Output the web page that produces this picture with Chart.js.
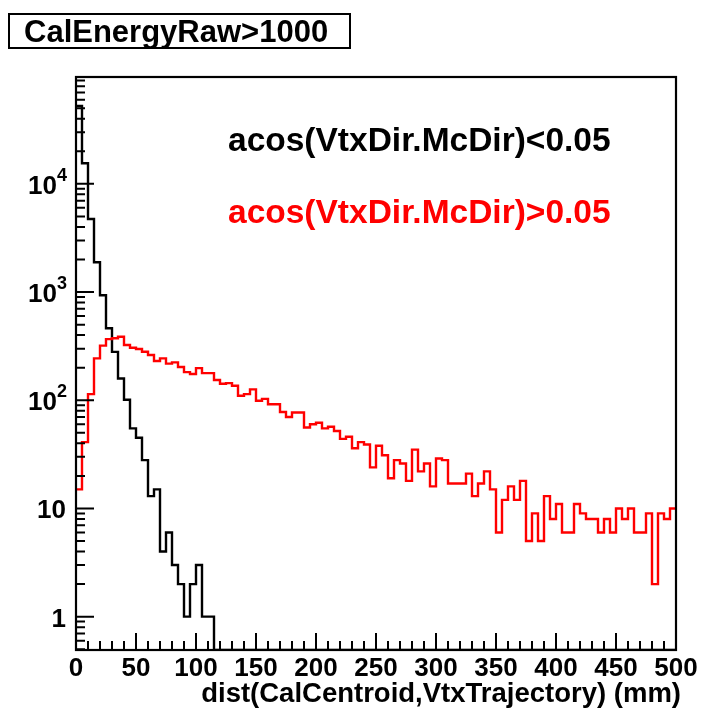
<!DOCTYPE html>
<html><head><meta charset="utf-8">
<script src="https://cdn.jsdelivr.net/npm/chart.js@4.4.0/dist/chart.umd.min.js"></script>
<style>html,body{margin:0;padding:0;background:#fff;}canvas{display:block;}</style>
</head><body>
<canvas id="c" width="702" height="711"></canvas>
<script>
// ---- data (5 mm bins, low edges) ----
const binLow = [0,5,10,15,20,25,30,35,40,45,50,55,60,65,70,75,80,85,90,95,
100,105,110,115,120,125,130,135,140,145,150,155,160,165,170,175,180,185,190,195,
200,205,210,215,220,225,230,235,240,245,250,255,260,265,270,275,280,285,290,295,
300,305,310,315,320,325,330,335,340,345,350,355,360,365,370,375,380,385,390,395,
400,405,410,415,420,425,430,435,440,445,450,455,460,465,470,475,480,485,490,495];
const xUpperEdge = 500;

// acos(VtxDir.McDir)<0.05  (black)
const countsNarrow = [52500,15500,4740,1885,934,463,280,159,101,55,
45,28,13,15,4,6,3,2,1,2,
3,1,1,0,0,0,0,0,0,0,
0,0,0,0,0,0,0,0,0,0,
0,0,0,0,0,0,0,0,0,0,
0,0,0,0,0,0,0,0,0,0,
0,0,0,0,0,0,0,0,0,0,
0,0,0,0,0,0,0,0,0,0,
0,0,0,0,0,0,0,0,0,0,
0,0,0,0,0,0,0,0,0,0];

// acos(VtxDir.McDir)>0.05  (red)
const countsWide = [15,41,114,244,320,367,374,387,324,306,
298,281,262,231,244,218,224,203,182,175,
198,178,178,154,142,144,136,110,114,126,
99,103,92,92,78,70,77,77,56,60,
62,55,57,52,44,46,36,41,39,24,
38,31,19,28,26,18,35,22,26,16,
29,28,17,17,17,21,13,17,22,15,
6,12,16,12,18,5,9,5,13,8,
11,6,6,11,9,8,8,6,8,6,
10,8,10,6,6,9,2,9,8,10];

const xTickLabels = [0,50,100,150,200,250,300,350,400,450,500];
const yDecadeTicks = [1,10,100,1000,10000];
const yAxisMin = 0.492, yAxisMax = 97200;
const titleText = 'CalEnergyRaw>1000';
const xTitle = 'dist(CalCentroid,VtxTrajectory) (mm)';
const legendNarrow = 'acos(VtxDir.McDir)<0.05';
const legendWide = 'acos(VtxDir.McDir)>0.05';

// zero-count bins are drawn on the axis floor, as ROOT does on a log scale
function histPoints(counts) {
  const pts = binLow.map((x, i) => ({x: x, y: counts[i] > 0 ? counts[i] : yAxisMin}));
  const last = counts[counts.length - 1];
  pts.push({x: xUpperEdge, y: last > 0 ? last : yAxisMin});
  return pts;
}

const FONT = '"Liberation Sans", Arial, Helvetica, sans-serif';

const rootStyle = {
  id: 'rootStyle',
  afterDraw(chart) {
    const ctx = chart.ctx, a = chart.chartArea;
    const xs = chart.scales.x, ys = chart.scales.y;
    ctx.save();
    ctx.strokeStyle = '#000';
    ctx.lineWidth = 2.2;
    ctx.strokeRect(a.left, a.top, a.right - a.left, a.bottom - a.top);
    ctx.beginPath();
    ctx.lineWidth = 2;
    // y ticks (log)
    for (let d = -1; d <= 4; d++) {
      for (let m = 1; m <= 9; m++) {
        const v = m * Math.pow(10, d);
        if (v < yAxisMin || v > yAxisMax) continue;
        const py = ys.getPixelForValue(v);
        const len = m === 1 ? 18 : 9;
        ctx.moveTo(a.left, py); ctx.lineTo(a.left + len, py);
      }
    }
    // x ticks
    for (let v = 0; v <= xUpperEdge; v += 10) {
      const px = xs.getPixelForValue(v);
      const len = v % 50 === 0 ? 17 : 9;
      ctx.moveTo(px, a.bottom); ctx.lineTo(px, a.bottom - len);
    }
    ctx.stroke();

    ctx.fillStyle = '#000';
    // x labels
    ctx.font = 'bold 26px ' + FONT;
    ctx.textAlign = 'center';
    ctx.textBaseline = 'alphabetic';
    xTickLabels.forEach(v => ctx.fillText(String(v), xs.getPixelForValue(v), 676));
    // y labels
    yDecadeTicks.forEach(v => {
      const py = ys.getPixelForValue(v);
      const exp = Math.round(Math.log10(v));
      ctx.textAlign = 'right';
      ctx.font = 'bold 26px ' + FONT;
      if (exp <= 1) {
        ctx.fillText(String(v), 66, py + 10);
      } else {
        ctx.fillText('10', 57, py + 10);
        ctx.font = 'bold 18px ' + FONT;
        ctx.textAlign = 'left';
        ctx.fillText(String(exp), 57, py - 3);
      }
    });
    // axis title
    ctx.font = 'bold 27.5px ' + FONT;
    ctx.textAlign = 'right';
    ctx.fillText(xTitle, 681, 702);
    // legend texts
    ctx.textAlign = 'left';
    ctx.font = 'bold 33.5px ' + FONT;
    ctx.fillStyle = '#000';
    ctx.fillText(legendNarrow, 228, 151);
    ctx.fillStyle = '#ff0000';
    ctx.fillText(legendWide, 228, 223);
    // title box
    ctx.fillStyle = '#000';
    ctx.lineWidth = 2;
    ctx.strokeRect(9, 14, 341, 34);
    ctx.font = 'bold 31px ' + FONT;
    ctx.fillText(titleText, 24, 42);
    ctx.restore();
  }
};

new Chart(document.getElementById('c'), {
  type: 'line',
  data: {
    datasets: [
      {label: legendWide, data: histPoints(countsWide), borderColor: '#ff0000', borderWidth: 2.4,
       stepped: true, pointRadius: 0, fill: false, tension: 0},
      {label: legendNarrow, data: histPoints(countsNarrow), borderColor: '#000000', borderWidth: 2.4,
       stepped: true, pointRadius: 0, fill: false, tension: 0}
    ]
  },
  options: {
    responsive: false,
    animation: false,
    devicePixelRatio: 1,
    layout: {padding: {left: 76, right: 26, top: 77, bottom: 61}},
    plugins: {legend: {display: false}, tooltip: {enabled: false}, title: {display: false}},
    scales: {
      x: {type: 'linear', min: 0, max: xUpperEdge, display: false},
      y: {type: 'logarithmic', min: yAxisMin, max: yAxisMax, display: false}
    }
  },
  plugins: [rootStyle]
});
</script>
</body></html>
